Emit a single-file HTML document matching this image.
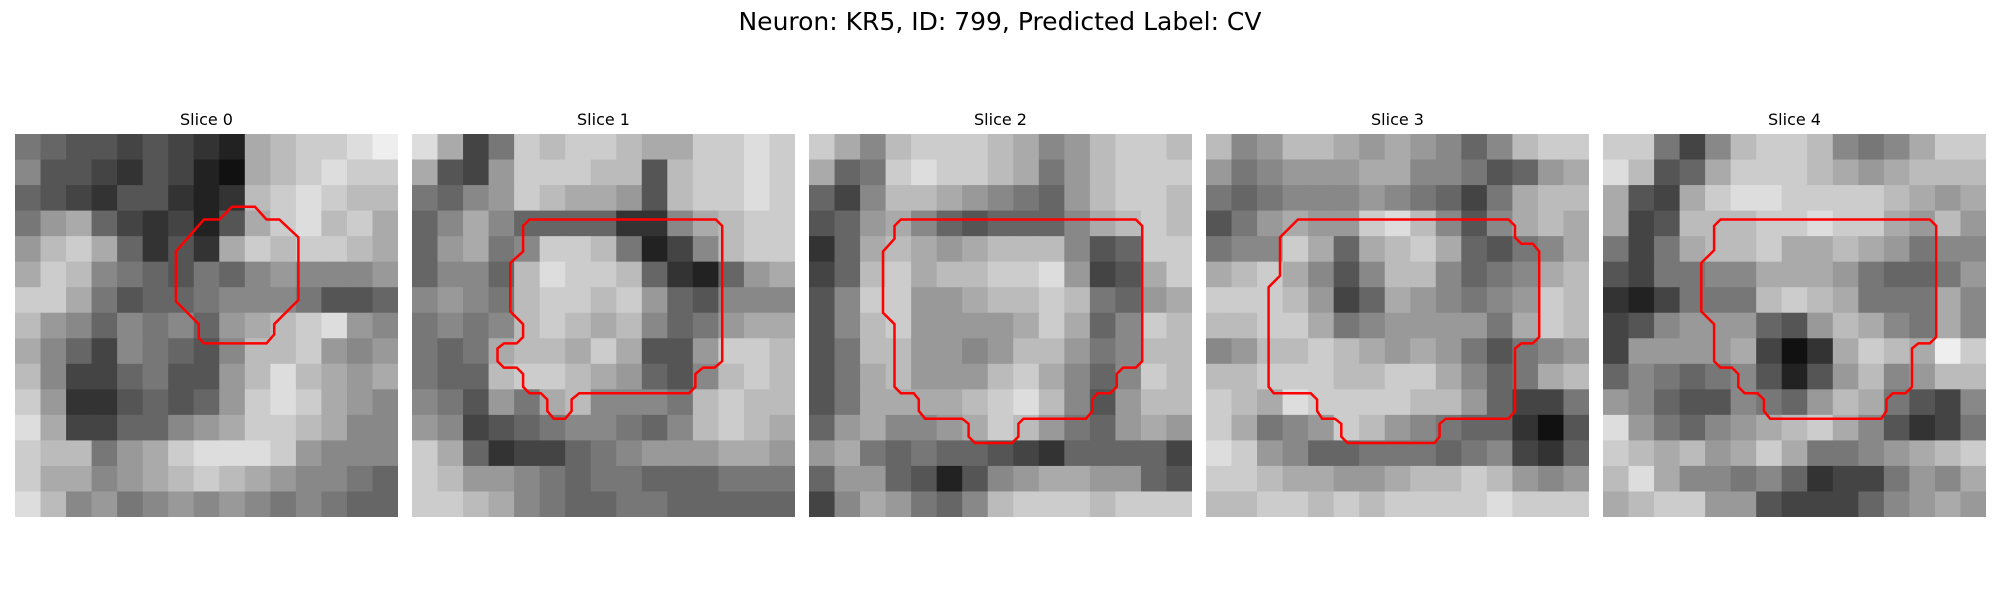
<!DOCTYPE html>
<html><head><meta charset="utf-8">
<style>
html,body{margin:0;padding:0;background:#fff;}
svg{display:block;font-family:"DejaVu Sans","Liberation Sans",sans-serif;}
</style></head>
<body>
<svg id="fig" width="2000" height="600" viewBox="0 0 2000 600" xmlns="http://www.w3.org/2000/svg">
<rect width="2000" height="600" fill="#fff"/>
<text x="1000" y="30" font-size="25" text-anchor="middle" fill="#000">Neuron: KR5, ID: 799, Predicted Label: CV</text>
<g id="panels"></g>
</svg>
<script>
const sliceTitles = ["Slice 0","Slice 1","Slice 2","Slice 3","Slice 4"];
const img0 = ["765545432abccde","855435421abcdcc","654355323bcdcbb","79a643425acdbca","9bca6353acbccba","acb876576898889","cca756678887556","b98687869abcd98","a86487658bbc989","b84467559bdba9a","c93356569cdca98","da446689accba88","cbb79acdddc9888","caa89abcba98876","db8978989878766"];
const img1 = ["da47cbccbaaccdc","a549cccbb5bccdc","7689cbaa95bccdc","68a86666338abcc","69a78ccb7248bcc","6886bdccb63269a","8987bccbc965888","7878bcbab8679aa","767abbaca559ccb","766bccba9658bcb","87597ab8887bcbb","98456788768bcba","ca6344678999aa9","cb9987677666777","ccba87667766666"];
const img2 = ["ca8bcccba89bccb","a67cdccba79bccc","648bba98769bccb","569a8656668abcb","36aba9abbb856cc","46bcabbccd945ac","58cc99abbcb769a","58bc9999aca68cb","57bb9989bb978bb","57ab999bca868cb","57aaaabcdb859bb","69a889acb9769a9","9a7676654366664","699652589aa9965","48a9768bcccbccc"];
const img3 = ["b89bba9a9868bcc","978999aa887569acc","767888987647abb","579a99cdb858aba","788ca6abca6578a","abca858bb8678ab","cccb946a98789cb","bbcca7899997acb","89bbcba9a975789","bbcccbbcca867ab","cbadccccbb96447","ca789cb98766315","dc9866777678436","ccbaa99abbcb989","bbccbcbccccdccc"];
const img4 = ["cc748bccb878acc","db56acccba9abbb","a54acddccccba9a","a45bbbccdcca9b9","747abbcaaba9788","547788aaa976679","324777bcba777a8","458999659ba87a8","49999a413acbaec","6876785259b89bb","986558769ba7548","d97689abca85347","cbab9aca7789abc","bda88786344798a","abcc995444689a9"];
const images = [img0,img1,img2,img3,img4];
const contour0 = [[17,5.7],[18.8,5.7],[19.7,6.7],[20.7,6.7],[22.2,8.1],[22.2,13],[20.3,14.9],[20.3,15.7],[19.7,16.4],[14.8,16.4],[14.4,15.97],[14.4,14.9],[12.6,13.1],[12.6,9.2],[14.8,6.7],[16,6.7]];
const contour1 = [[9.2,6.7],[23.8,6.7],[24.3,7.2],[24.3,17.8],[23.7,18.3],[22.8,18.3],[22.2,18.8],[22.2,19.8],[21.7,20.3],[13.1,20.3],[12.5,20.8],[12.5,21.7],[12,22.3],[11.1,22.3],[10.6,21.7],[10.6,20.8],[10.1,20.3],[9.2,20.3],[8.7,19.8],[8.7,18.8],[8.2,18.3],[7.2,18.3],[6.7,17.8],[6.7,16.8],[7.2,16.4],[8.2,16.4],[8.7,15.9],[8.7,14.9],[7.7,13.9],[7.7,10.1],[8.7,9.2],[8.7,7.2]];
const contour2 = [[7.2,6.7],[25.6,6.7],[26.1,7.2],[26.1,17.8],[25.6,18.3],[24.6,18.3],[24.1,18.8],[24.1,19.8],[23.6,20.3],[22.6,20.3],[22.2,20.8],[22.2,21.7],[21.7,22.3],[16.8,22.3],[16.4,22.7],[16.4,23.7],[15.9,24.2],[13,24.2],[12.5,23.7],[12.5,22.7],[12,22.3],[9.1,22.3],[8.6,21.7],[8.6,20.8],[8.2,20.3],[7.2,20.3],[6.7,19.8],[6.7,14.9],[5.8,14],[5.8,9.2],[6.7,8.2],[6.7,7.2]];
const contour3 = [[7.2,6.7],[23.7,6.7],[24.2,7.2],[24.2,8.1],[24.7,8.6],[25.6,8.6],[26.1,9.2],[26.1,15.9],[25.6,16.4],[24.7,16.4],[24.2,16.8],[24.2,21.7],[23.7,22.3],[18.8,22.3],[18.3,22.7],[18.3,23.7],[17.9,24.2],[11.1,24.2],[10.6,23.7],[10.6,22.7],[10.1,22.3],[9.1,22.3],[8.7,21.7],[8.7,20.8],[8.2,20.3],[5.3,20.3],[4.9,19.8],[4.9,12],[5.8,11.1],[5.8,8.1]];
const contour4 = [[9.2,6.7],[25.6,6.7],[26.1,7.2],[26.1,15.9],[25.6,16.4],[24.7,16.4],[24.2,16.8],[24.2,19.8],[23.7,20.3],[22.7,20.3],[22.2,20.8],[22.2,21.7],[21.8,22.3],[13.1,22.3],[12.6,21.7],[12.6,20.8],[12.1,20.3],[11.1,20.3],[10.6,19.8],[10.6,18.8],[10.1,18.3],[9.2,18.3],[8.7,17.8],[8.7,14.9],[7.7,13.9],[7.7,10.1],[8.7,9.1],[8.7,7.2]];
const contours = [contour0,contour1,contour2,contour3,contour4];

const NS = "http://www.w3.org/2000/svg";
const panelLeft = i => 15 + i*397;
const panelTop = 134, panelSize = 383, gridPx = 30;
const root = document.getElementById('panels');
images.forEach((rows, p) => {
  const g = document.createElementNS(NS,'g');
  
  
  const x0 = panelLeft(p);
  const n = rows.length, cs = panelSize / n;
  rows.forEach((row, r) => {
    for (let c = 0; c < n; c++) {
      const v = parseInt(row[c] || 'a', 16) * 17;
      const rc = document.createElementNS(NS,'rect');
      
      
      rc.setAttribute('x', (x0 + c*cs).toFixed(2));
      rc.setAttribute('y', (panelTop + r*cs).toFixed(2));
      rc.setAttribute('width', (Math.min(cs+0.6, x0 + panelSize - (x0 + c*cs))).toFixed(2));
      rc.setAttribute('height', (Math.min(cs+0.6, panelTop + panelSize - (panelTop + r*cs))).toFixed(2));
      rc.setAttribute('fill', `rgb(${v},${v},${v})`);
      g.appendChild(rc);
    }
  });
  const k = panelSize / gridPx;
  const pts = contours[p].map(([x,y]) => (x0 + x*k).toFixed(1) + ',' + (panelTop + y*k).toFixed(1)).join(' ');
  const pg = document.createElementNS(NS,'polygon');
  
  
  pg.setAttribute('points', pts);
  pg.setAttribute('fill', 'none');
  pg.setAttribute('stroke', '#ff0000');
  pg.setAttribute('stroke-width', '2.5');
  g.appendChild(pg);
  const t = document.createElementNS(NS,'text');
  
  
  t.setAttribute('x', x0 + panelSize/2);
  t.setAttribute('y', 125);
  t.setAttribute('font-size', '16');
  t.setAttribute('text-anchor', 'middle');
  t.textContent = sliceTitles[p];
  g.appendChild(t);
  root.appendChild(g);
});
</script>
</body></html>
